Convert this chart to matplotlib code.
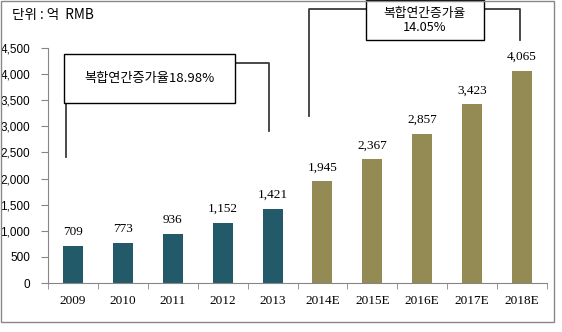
import matplotlib.pyplot as plt
from matplotlib.patches import Rectangle

plt.rcParams['font.family'] = ['Noto Sans CJK KR', 'DejaVu Sans']

# Market size, 100 million RMB (E = estimate)
years = ['2009', '2010', '2011', '2012', '2013',
         '2014E', '2015E', '2016E', '2017E', '2018E']
values = [709, 773, 936, 1152, 1421, 1945, 2367, 2857, 3423, 4065]
n_actual = 5
cagr_actual = '복합연간증가율18.98%'
cagr_forecast = '복합연간증가율\n14.05%'
unit_label = '단위 : 억  RMB'

teal = '#235A69'
olive = '#948A54'
colors = [teal] * n_actual + [olive] * (len(values) - n_actual)

fig = plt.figure(figsize=(5.62, 3.32), dpi=100)
ax = fig.add_axes([48 / 562, 1 - 283 / 332, 499 / 562, 235 / 332])

x = range(len(years))
ax.bar(x, values, width=0.4, color=colors, zorder=2)

for xi, v in zip(x, values):
    ax.text(xi, v + 150, f'{v:,}', ha='center', va='bottom',
            family='Liberation Serif', fontsize=9.5)

ax.set_xlim(-0.5, len(years) - 0.5)
ax.set_ylim(0, 4500)
ax.set_yticks(range(0, 4501, 500))
ax.set_yticklabels([f'{t:,}' for t in range(0, 4501, 500)],
                   family='Liberation Sans', fontsize=8.5)
ax.set_xticks(list(x))
ax.set_xticklabels(years, family='Liberation Serif', fontsize=9.5)
ax.set_xticks([i - 0.5 for i in range(len(years) + 1)], minor=True)
ax.tick_params(axis='x', which='major', length=0, pad=9)
ax.tick_params(axis='x', which='minor', length=4, color='#868686',
               direction='out')
ax.tick_params(axis='y', length=5, color='#868686', pad=8)

for side in ['top', 'right']:
    ax.spines[side].set_visible(False)
for side in ['left', 'bottom']:
    ax.spines[side].set_color('#868686')

# growth-rate brackets
line_kw = dict(color='#3a3a3a', lw=1.3, clip_on=False, zorder=3)
ax.plot([-0.14, -0.14, 3.93, 3.93], [2410, 4218, 4218, 2908], **line_kw)
ax.plot([4.73, 4.73, 8.96, 8.96], [3196, 5247, 5247, 4653], **line_kw)

ax.add_patch(Rectangle((-0.18, 3445), 3.43, 940, facecolor='white',
                       edgecolor='black', lw=1, clip_on=False, zorder=4))
ax.text(1.535, 3915, cagr_actual, ha='center', va='center',
        fontsize=9.5, zorder=5)

ax.add_patch(Rectangle((5.87, 4653), 2.37, 760, facecolor='white',
                       edgecolor='black', lw=1, clip_on=False, zorder=4))
ax.text(7.055, 5030, cagr_forecast, ha='center', va='center',
        fontsize=9.2, linespacing=1.15, zorder=5)

fig.text(12 / 562, 1 - 15 / 332, unit_label, ha='left', va='center',
         fontsize=9.8)

# outer frame
fig.patches.append(Rectangle((1 / 562, 1 - 322 / 332), 553 / 562, 321 / 332,
                             transform=fig.transFigure, fill=False,
                             edgecolor='#888888', lw=1))

fig.savefig('out.png', dpi=100)
